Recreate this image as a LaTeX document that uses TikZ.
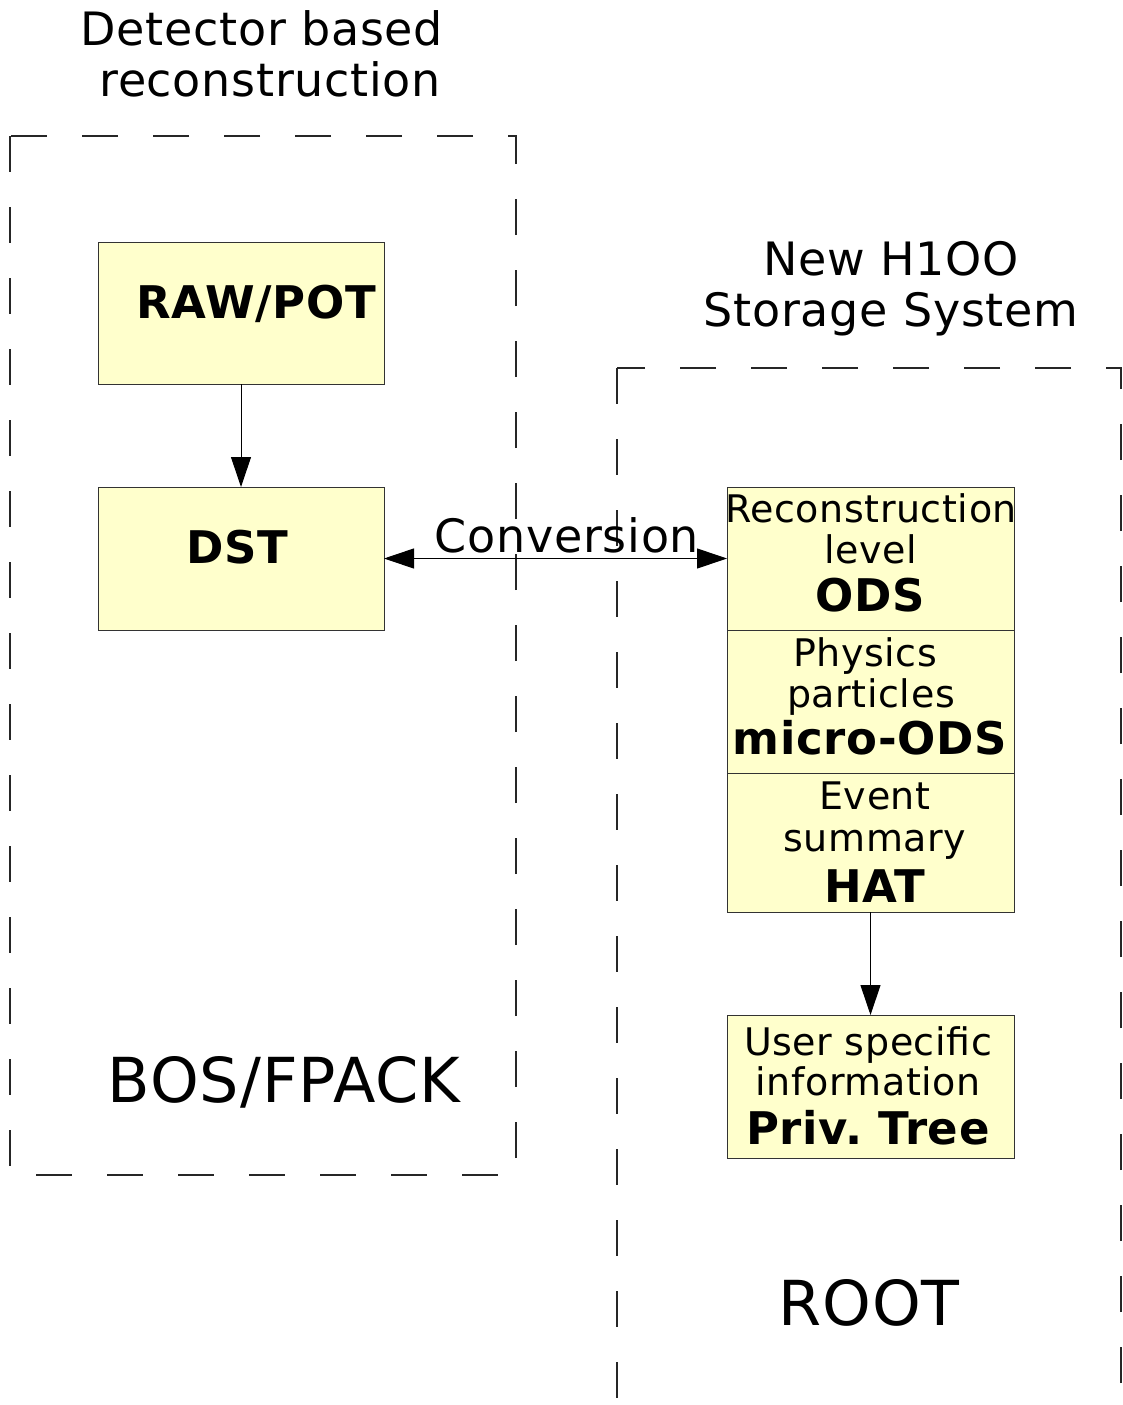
\documentclass[tikz,border=0pt]{standalone}
\usepackage{fontspec}
\setmainfont[LetterSpace=1.5]{DejaVu Sans}
\usetikzlibrary{arrows.meta}
\definecolor{boxfill}{HTML}{FFFFCC}
\definecolor{boxline}{HTML}{333333}
\frenchspacing
\begin{document}
\begin{tikzpicture}[x=1pt,y=-1pt,
  store/.style={draw=boxline, fill=boxfill, line width=1pt, rectangle,
    inner sep=0pt, outer sep=0pt, anchor=north west},
  region/.style={draw=black!85, line width=1.2pt, dash pattern=on 36pt off 35pt},
  flow/.style={line width=1pt, -{Triangle[length=30pt,width=20pt]}},
  both/.style={line width=1pt,
    {Triangle[length=30pt,width=20pt]}-{Triangle[length=30pt,width=20pt]}},
  lbl/.style={anchor=base, inner sep=0pt, font=\fontsize{38}{40}\selectfont},
  ttl/.style={anchor=base, inner sep=0pt, font=\fontsize{45}{48}\selectfont\bfseries},
  hdr/.style={anchor=base, inner sep=0pt, font=\fontsize{46}{50}\selectfont},
  big/.style={anchor=base, inner sep=0pt, font=\fontsize{62}{66}\selectfont},
]
\useasboundingbox (0,0) rectangle (1122,1405);
\clip (0,0) rectangle (1122,1405);

% dashed regions
\draw[region] (10,136) rectangle (516,1175);
\draw[region] (617,368) rectangle (1121,1440);

% region headings
\node[hdr] (h1a) at (262,46) {Detector based};
\node[hdr] (h1b) at (270,96) {reconstruction};
\node[hdr] (h2a) at (891,275) {New H1OO};
\node[hdr] (h2b) at (891,326) {Storage System};
\node[big] (bos) at (284,1102) {BOS/FPACK};
\node[big] (root) at (869,1325) {ROOT};

% left storage boxes
\node[store, minimum width=286pt, minimum height=142pt] (raw) at (98,242) {};
\node[store, minimum width=286pt, minimum height=143pt] (dst) at (98,487) {};
\node[ttl] (rawt) at (256,318) {RAW/POT};
\node[ttl] (dstt) at (237,563) {DST};

% right storage stack
\node[store, minimum width=287pt, minimum height=143pt] (ods) at (727,487) {};
\node[store, minimum width=287pt, minimum height=143pt] (micro) at (727,630) {};
\node[store, minimum width=287pt, minimum height=139pt] (hat) at (727,773) {};
\node[store, minimum width=287pt, minimum height=143pt] (priv) at (727,1015) {};

\node[lbl] (odsa) at (871,522) {Reconstruction};
\node[lbl] (odsb) at (871,563) {level};
\node[ttl] (odst) at (870,611) {ODS};

\node[lbl] (mica) at (865,666) {Physics};
\node[lbl] (micb) at (871,707) {particles};
\node[ttl] (mict) at (870,754) {micro-ODS};

\node[lbl] (hata) at (875,809) {Event};
\node[lbl] (hatb) at (875,851) {summary};
\node[ttl] (hatt) at (875,902) {HAT};

\node[lbl] (priva) at (868,1055) {User specific};
\node[lbl] (privb) at (868,1095) {information};
\node[ttl] (privt) at (868,1144) {Priv.\ Tree};

% connectors
\draw[flow] (raw.south) -- (dst.north);
\draw[both] (dst.east) -- (ods.west);
\node[hdr] (conv) at (567,552) {Conversion};
\draw[flow] (hat.south) -- (priv.north);
\end{tikzpicture}
\end{document}
